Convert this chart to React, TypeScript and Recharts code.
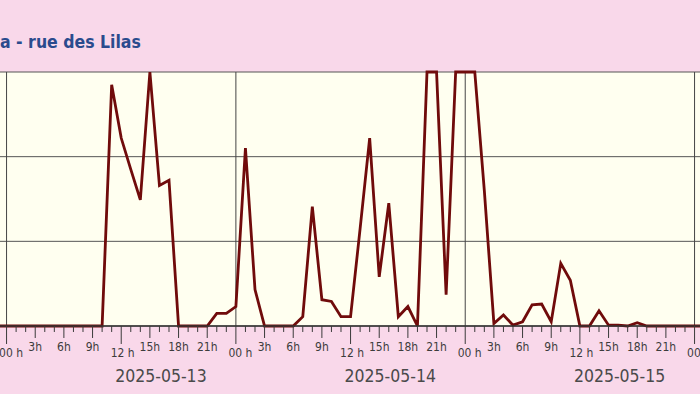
import React from 'react';
import { LineChart, Line, XAxis, YAxis, CartesianGrid, ReferenceLine } from 'recharts';

// hourly values, one array per calendar day (last hour of 05-12 visible at the left edge)
const day12Tail = [0];
const day13 = [0, 0, 0, 0, 0, 0, 0, 0, 0, 0, 0, 28.5, 22.2, 18.5, 14.9, 30, 16.6, 17.2, 0, 0, 0, 0, 1.5, 1.5];
const day14 = [2.3, 21, 4.3, 0, 0, 0, 0, 1.1, 14.1, 3.1, 2.9, 1.1, 1.1, 11.5, 22.2, 5.8, 14.5, 1.1, 2.3, 0, 30, 30, 3.7, 30];
const day15 = [30, 30, 16, 0.3, 1.3, 0.1, 0.5, 2.5, 2.6, 0.5, 7.4, 5.4, 0, 0, 1.8, 0.1, 0.1, 0, 0.4, 0, 0, 0, 0, 0];
const day16 = [0, 0];

const dates = ['2025-05-12', '2025-05-13', '2025-05-14', '2025-05-15', '2025-05-16'];
const hourLabels = ['00 h', '3h', '6h', '9h', '12 h', '15h', '18h', '21h'];
const dayStarts = [0, 24, 48, 72];
const yTicks = [0, 10, 20, 30];

const values = [...day12Tail, ...day13, ...day14, ...day15, ...day16];
const data = values.map((v, i) => ({ hour: i - 1, value: v }));
const hourTicks = data.map((d) => d.hour);

const HOUR_PX = 688 / 72;
const CHART_W = 74 * HOUR_PX;

const labelFont = "'DejaVu Sans Condensed', 'DejaVu Sans', sans-serif";

const HourTick = (props: any) => {
  const { x, y, payload } = props;
  const h = payload.value as number;
  const hh = ((h % 24) + 24) % 24;
  const dayIdx = Math.floor(h / 24) + 1;
  const len = hh % 12 === 0 ? 18 : hh % 3 === 0 ? 12 : 6;
  const low = hh % 12 === 0;
  const dx = hh === 0 ? 4.5 : hh === 12 ? 1.5 : 0;
  return (
    <g>
      <line x1={x} y1={y} x2={x} y2={y + len} stroke="#3a3a3a" strokeWidth={1} />
      {hh % 3 === 0 && (
        <text
          x={x + dx}
          y={y + (low ? 31 : 25)}
          textAnchor="middle"
          fontFamily={labelFont}
          fontStretch="condensed"
          fontSize={12}
          fill="#3c3c3c"
        >
          {hourLabels[hh / 3]}
        </text>
      )}
      {hh === 16 && (
        <text
          x={x + 1.5}
          y={y + 56}
          textAnchor="middle"
          fontFamily={labelFont}
          fontStretch="condensed"
          fontSize={17.5}
          fill="#4a4a4a"
        >
          {dates[dayIdx]}
        </text>
      )}
    </g>
  );
};

export default function App() {
  return (
    <div
      style={{
        position: 'fixed',
        left: 0,
        top: 0,
        width: 700,
        height: 394,
        background: '#f9d8ea',
        overflow: 'hidden',
      }}
    >
      <div
        style={{
          position: 'absolute',
          left: 0,
          top: 32,
          fontFamily: labelFont,
          fontStretch: 'condensed',
          fontWeight: 'bold',
          fontSize: 17.5,
          lineHeight: 'normal',
          color: '#2a4b8d',
          whiteSpace: 'nowrap',
        }}
      >
        a - rue des Lilas
      </div>
      <div style={{ position: 'absolute', left: 7 - HOUR_PX, top: 0 }}>
        <LineChart
          width={CHART_W}
          height={394}
          data={data}
          margin={{ top: 72, right: 0, left: 0, bottom: 0 }}
        >
          <CartesianGrid vertical={false} stroke="#555" fill="#fffff0" fillOpacity={1} />
          <XAxis
            dataKey="hour"
            type="number"
            domain={[-1, 73]}
            ticks={hourTicks}
            interval={0}
            height={68}
            tickSize={0}
            tickMargin={0}
            tickLine={false}
            axisLine={{ stroke: '#333', strokeWidth: 1.5 }}
            tick={<HourTick />}
          />
          <YAxis hide domain={[0, 30]} ticks={yTicks} />
          {dayStarts.map((d) => (
            <ReferenceLine key={d} x={d} stroke="#444" strokeWidth={1} />
          ))}
          <Line
            type="linear"
            dataKey="value"
            stroke="#700b0b"
            strokeWidth={2.8}
            dot={false}
            activeDot={false}
            isAnimationActive={false}
          />
        </LineChart>
      </div>
    </div>
  );
}
